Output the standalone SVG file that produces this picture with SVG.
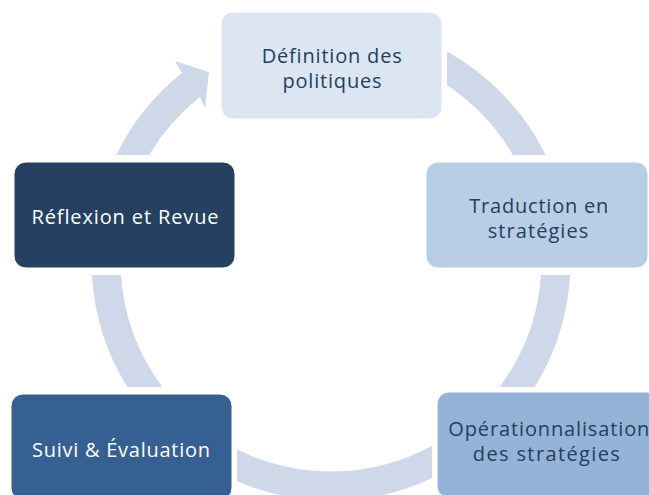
<svg xmlns="http://www.w3.org/2000/svg" width="649" height="495" viewBox="0 0 649 495">
  <style>
    .ring { fill: #CFD8E8; }
    .box { stroke: #FFFFFF; stroke-width: 1; }
    .lbl { font-family: "Open Sans", "Noto Sans", "Liberation Sans", sans-serif; font-size: 20px; text-anchor: middle; font-variant-ligatures: none; }
    .dark { fill: #243E5F; }
    .light { fill: #FFFFFF; }
  </style>

  <!-- circular arrow ring segments, centre (331,261), radii 210.5 / 239.5 -->
  <g id="connectors">
    <!-- top-right: Définition -> Traduction -->
    <path class="ring" d="M447,51.5 A239.5,239.5 0 0 1 545.8,155 L512.9,155 A210.5,210.5 0 0 0 447,85.3 Z"/>
    <!-- right: Traduction -> Opérationnalisation -->
    <path class="ring" d="M570.1,275 A239.5,239.5 0 0 1 534.7,387 L499.6,387 A210.5,210.5 0 0 0 541,275 Z"/>
    <!-- bottom: Opérationnalisation -> Suivi -->
    <path class="ring" d="M432,478.2 A239.5,239.5 0 0 1 237,481.3 L237,449.3 A210.5,210.5 0 0 0 432,445.7 Z"/>
    <!-- left: Suivi -> Réflexion -->
    <path class="ring" d="M127.3,387 A239.5,239.5 0 0 1 91.9,275 L121,275 A210.5,210.5 0 0 0 162.4,387 Z"/>
    <!-- top-left with arrowhead: Réflexion -> Définition -->
    <path class="ring" d="M116.2,155 A239.5,239.5 0 0 1 182,73 L175,61 L209,72 L205,108 L200,97 A210.5,210.5 0 0 0 149.1,155 Z"/>
  </g>

  <g id="definition">
    <rect class="box" x="221" y="12" width="221" height="107" rx="12" fill="#DCE6F2"/>
    <text class="lbl dark" x="331.7" y="62.5" textLength="140" lengthAdjust="spacing">Définition des</text>
    <text class="lbl dark" x="332" y="87.5" textLength="99" lengthAdjust="spacing">politiques</text>
  </g>

  <g id="traduction">
    <rect class="box" x="426" y="162" width="222" height="106" rx="12" fill="#B9CDE5"/>
    <text class="lbl dark" x="538.8" y="212.5" textLength="139" lengthAdjust="spacing">Traduction en</text>
    <text class="lbl dark" x="538" y="237.5" textLength="100.6" lengthAdjust="spacing">stratégies</text>
  </g>

  <g id="operationnalisation">
    <rect class="box" x="437" y="392" width="222" height="106" rx="12" fill="#95B3D7"/>
    <text class="lbl dark" x="548.8" y="435.5" textLength="201" lengthAdjust="spacing">Opérationnalisation</text>
    <text class="lbl dark" x="546.3" y="460.5" textLength="147" lengthAdjust="spacing">des stratégies</text>
  </g>

  <g id="suivi">
    <rect class="box" x="11" y="394" width="221" height="106" rx="12" fill="#376092"/>
    <text class="lbl light" x="121" y="457" textLength="178" lengthAdjust="spacing">Suivi &amp; Évaluation</text>
  </g>

  <g id="reflexion">
    <rect class="box" x="14" y="162" width="221" height="106" rx="12" fill="#254061"/>
    <text class="lbl light" x="125" y="224" textLength="187" lengthAdjust="spacing">Réflexion et Revue</text>
  </g>
</svg>
